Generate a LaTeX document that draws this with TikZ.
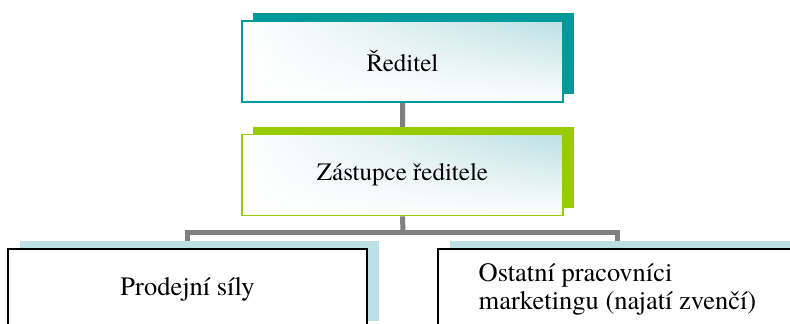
\documentclass[tikz,border=0pt]{standalone}
\usepackage{fontspec}
\setmainfont{texgyretermes}[Extension=.otf,UprightFont=*-regular,BoldFont=*-bold,ItalicFont=*-italic,BoldItalicFont=*-bolditalic]
\usetikzlibrary{shadows,backgrounds,fadings}
\definecolor{tealdark}{HTML}{009999}
\definecolor{tealpale}{HTML}{BCE0E3}
\definecolor{greendark}{HTML}{99CC00}
\definecolor{linkgray}{HTML}{808080}

\begin{document}
\begin{tikzpicture}[x=1pt,y=-1pt,
    box/.style={line width=1.8pt,inner sep=0pt,font=\fontsize{25pt}{28pt}\selectfont},
    upper/.style={box,minimum width=321pt,minimum height=81pt,
        top color=tealpale,bottom color=white,
        postaction={fill=white,path fading=east},postaction={draw=#1},
        general shadow={shadow xshift=11pt,shadow yshift=8pt,fill=#1}},
    lower/.style={box,draw=black,line width=1.5pt,fill=white,minimum width=359pt,minimum height=80pt,align=left,
        font=\fontsize{26.5pt}{28pt}\selectfont,
        general shadow={shadow xshift=12pt,shadow yshift=8pt,fill=tealpale}},
    link/.style={draw=linkgray,line width=5pt}]
    \path[use as bounding box,clip] (0,0) rectangle (790,324);

    \node (reditel) at (402.5,61.5) [upper=tealdark] {Ředitel};
    \node (zastupce) at (402.5,175) [upper=greendark] {Zástupce ředitele};
    \node (prodej) at (187.5,289) [lower] {Prodejní síly};
    \node (ostatni) at (617.5,289) [lower] {Ostatní pracovníci\\marketingu (najatí zvenčí)};
    \coordinate (bus) at (403,232.5);

    \begin{scope}[on background layer]
        \draw[link] (reditel.south) -- (zastupce.north) (zastupce.south) -- (bus);
        \draw[link] (prodej.north) |- (bus) -| (ostatni.north);
    \end{scope}
\end{tikzpicture}
\end{document}
